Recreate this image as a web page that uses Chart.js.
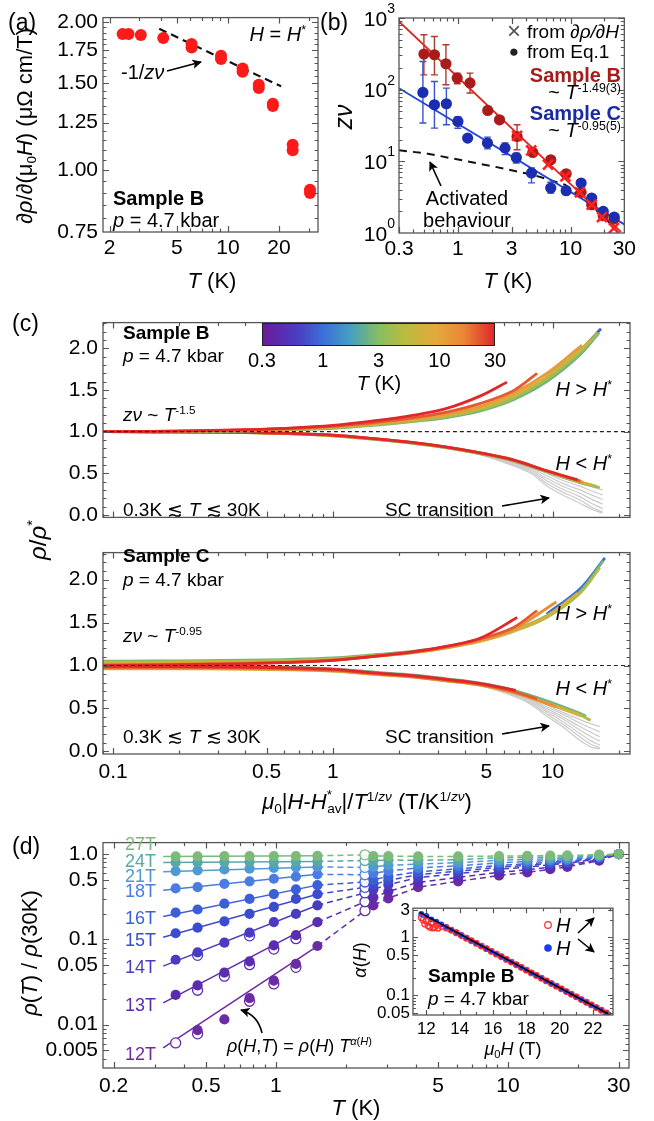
<!DOCTYPE html>
<html><head><meta charset="utf-8">
<script src="https://cdn.jsdelivr.net/npm/chart.js@4.4.1/dist/chart.umd.min.js"></script>
<style>
html,body{margin:0;padding:0;background:#fff;}
#page{position:relative;width:654px;height:1121px;overflow:hidden;font-family:"Liberation Sans",Arial,Helvetica,sans-serif;color:#000;}
canvas{position:absolute;}
.t{position:absolute;white-space:nowrap;line-height:1;z-index:6;}
.t sup,.t sub{font-size:62%;line-height:0;position:relative;vertical-align:baseline;}
.t sup{top:-0.6em;}
.t sub{top:0.3em;}
</style></head><body><div id="page"></div>
<script>
// ---------------- DATA ----------------
// (a)
const aT = [2.39, 2.59, 3.06, 4.15, 6.1, 6.1, 9.1, 9.1, 12.2, 12.2, 15.2, 15.2, 18.4, 18.4, 24.1, 24.1, 30.5, 30.5];
const aV = [1.889, 1.889, 1.88, 1.854, 1.803, 1.775, 1.707, 1.681, 1.609, 1.585, 1.492, 1.469, 1.364, 1.35, 1.127, 1.098, 0.914, 0.90];
const aFitT = [3.93, 20.6];
const aFitV = [1.936, 1.48];
const aYTicks = [0.75, 1.00, 1.25, 1.50, 1.75, 2.00];
const aXTicks = [2, 5, 10, 20];
// (b)
const bT_B = [0.499, 0.619, 0.783, 0.986, 1.28, 1.84, 2.34, 3.35, 4.62, 6.67, 9.14, 12.4, 15.4, 19.5, 24.4];
const bZ_B = [314, 307, 230, 145, 124, 51.3, 38, 22.2, 13.3, 10.5, 6.7, 3.69, 2.48, 1.74, 1.57];
const bErr_B = [[161,583],[161,552],[117,423],[121,170],[90,170],null,null,[14.5,32.4],null,null,null,null,null,null,null];
const bT_C = [0.489, 0.619, 0.79, 1.0, 1.22, 1.83, 2.62, 3.3, 4.5, 6.67, 9.14, 12.4, 15.4, 19.5, 24.4];
const bZ_C = [91.4, 61.5, 63.6, 36, 21.1, 18, 15.3, 11.3, 6.87, 4.24, 3.89, 4.98, 3.08, 2.0, 1.67];
const bErr_C = [[34.2,247],[29.1,130],[32.4,105],[29,41.5],null,[14.9,21.8],[12.4,18],[9.5,13],[5,8.1],[3.6,5.1],null,null,null,null,null];
const bT_X = [3.35, 4.47, 6.3, 9.0, 12.1, 15.4, 19.0, 24.2];
const bZ_X = [22.7, 14.2, 8.97, 6.16, 3.69, 2.48, 1.67, 1.17];
const bFitBT = [0.3, 28], bFitBZ = [896, 1.04];
const bFitCT = [0.3, 30], bFitCZ = [105, 1.32];
const bActT = [0.3, 0.54, 2.06, 4.62, 8.99, 13.3, 20.2, 23.1];
const bActZ = [14.3, 12.8, 8.5, 6.5, 4.7, 2.9, 1.62, 1.3];
const bXTicks = [0.3, 1, 3, 10, 30];
const bYTicks = [1, 10, 100, 1000];
// (c) scaling collapse
const cGridX = [0.09, 0.15, 0.25, 0.4, 0.6, 1, 1.6, 2.3, 3.3, 4.7, 6.6, 9.4, 13.3];
const bUpT = [0.8, 2.5, 4, 7, 12, 22, 30];
const bUpY = [
  [null,null,null,null,null,null,null,null,null,null,null,1.655,1.975],
  [1.0,1.0,1.003,1.008,1.018,1.04,1.08,1.12,1.17,1.25,1.38,1.60,1.92],
  [1.0,1.001,1.005,1.011,1.022,1.046,1.088,1.128,1.18,1.265,1.40,1.63,1.95],
  [1.0,1.002,1.007,1.014,1.027,1.053,1.097,1.138,1.195,1.285,1.43,1.66,1.98],
  [1.0,1.003,1.009,1.018,1.032,1.06,1.105,1.148,1.21,1.305,1.46,1.70],
  [1.0,1.003,1.01,1.02,1.035,1.065,1.115,1.165,1.235,1.34,1.49],
  [1.0,1.004,1.012,1.024,1.04,1.075,1.135,1.195,1.28,1.43]];
const bUpEnd = [[16.6,2.235],[16.3,2.19],[16.0,2.19],[15.2,2.12],[13.6,2.04],[8.5,1.70],[6.2,1.595]];
const bLoT = [2.5, 4, 7, 12, 22, 30];
const bLoY = [
  [1.0,0.998,0.994,0.988,0.977,0.95,0.903,0.86,0.805,0.733,0.65,0.517,0.388],
  [1.0,0.998,0.995,0.989,0.978,0.952,0.906,0.864,0.809,0.738,0.655,0.522,0.393],
  [1.0,0.999,0.995,0.99,0.979,0.954,0.908,0.866,0.811,0.74,0.658,0.525,0.397],
  [1.0,0.999,0.996,0.991,0.98,0.955,0.91,0.868,0.813,0.742,0.66,0.528],
  [1.0,0.999,0.996,0.991,0.981,0.957,0.911,0.869,0.814,0.744,0.661,0.53],
  [1.0,0.999,0.997,0.992,0.982,0.958,0.912,0.87,0.815,0.745,0.662,0.53]];
const bLoEnd = [[15.8,0.345],[16.4,0.326],[15.3,0.355],[13.8,0.39],[13.4,0.405],[13.0,0.42]];
const bGreyX = [3.3, 4.7, 6.6, 8, 9.4, 11, 13.3, 15, 16.9];
const bGreyY = [
  [0.815,0.742,0.655,0.59,0.52,0.45,0.385,0.34,0.30],
  [0.815,0.74,0.648,0.578,0.50,0.42,0.345,0.29,0.24],
  [0.815,0.737,0.638,0.563,0.47,0.385,0.30,0.24,0.185],
  [0.815,0.734,0.628,0.548,0.44,0.35,0.26,0.19,0.13],
  [0.815,0.73,0.616,0.53,0.41,0.315,0.22,0.14,0.075],
  [0.815,0.726,0.604,0.512,0.38,0.28,0.18,0.095,0.035],
  [0.815,0.722,0.592,0.495,0.35,0.245,0.14,0.07,0.02]];
const cUpT = [1, 2.5, 4.5, 8, 14, 22, 30];
const cUpY = [
  [null,null,null,null,null,null,null,null,null,null,null,1.60,1.89],
  [1.05,1.053,1.057,1.062,1.07,1.088,1.13,1.165,1.22,1.30,1.41,1.58,1.86],
  [1.04,1.043,1.047,1.052,1.06,1.078,1.12,1.155,1.21,1.285,1.395,1.56,1.84],
  [1.02,1.024,1.029,1.035,1.045,1.065,1.11,1.148,1.205,1.285,1.40,1.575],
  [1.01,1.014,1.02,1.027,1.038,1.062,1.11,1.15,1.21,1.295,1.42],
  [1.005,1.01,1.016,1.024,1.036,1.062,1.112,1.155,1.22,1.31,1.44],
  [1.0,1.005,1.012,1.02,1.033,1.06,1.112,1.158,1.225,1.32]];
const cUpEnd = [[17.3,2.255],[17.0,2.22],[16.4,2.14],[13.0,1.84],[10.4,1.74],[8.5,1.64],[6.9,1.56]];
const cLoT = [2.5, 4.5, 8, 14, 22, 30];
const cLoY = [
  [1.0,0.998,0.995,0.99,0.982,0.962,0.92,0.89,0.845,0.795,0.715,0.59,0.445],
  [0.975,0.974,0.972,0.968,0.96,0.942,0.9,0.87,0.825,0.775,0.69,0.565,0.425],
  [0.962,0.962,0.96,0.957,0.951,0.934,0.895,0.865,0.82,0.77,0.685,0.56,0.42],
  [0.97,0.969,0.967,0.963,0.956,0.938,0.898,0.868,0.823,0.775,0.69,0.56],
  [0.98,0.979,0.977,0.973,0.965,0.946,0.905,0.875,0.83,0.782,0.70],
  [0.99,0.989,0.987,0.983,0.975,0.955,0.912,0.882,0.838,0.79]];
const cLoEnd = [[14.2,0.41],[14.9,0.362],[13.6,0.41],[10.4,0.52],[8.5,0.61],[6.8,0.71]];
const cGreyX = [3.3, 4.7, 6.6, 8, 9.4, 11, 13.3, 15, 16.4];
const cGreyY = [
  [0.83,0.785,0.69,0.62,0.54,0.46,0.37,0.32,0.29],
  [0.83,0.783,0.685,0.61,0.52,0.44,0.33,0.27,0.23],
  [0.83,0.78,0.68,0.6,0.5,0.41,0.29,0.22,0.17],
  [0.83,0.777,0.672,0.59,0.48,0.385,0.25,0.17,0.12],
  [0.83,0.774,0.665,0.575,0.46,0.355,0.21,0.12,0.075],
  [0.83,0.77,0.655,0.56,0.435,0.325,0.17,0.08,0.045],
  [0.83,0.765,0.645,0.545,0.41,0.295,0.13,0.05,0.03]];
const cRef = [1.0];
const cXTicks = [0.1, 0.5, 1, 5, 10];
const cYTicks = [0, 0.5, 1, 1.5, 2];
const cbarTicks = [0.3, 1, 3, 10, 30];
// (d)
const dFields = ['27T','24T','21T','18T','16T','15T','14T','13T','12T'];
const dLowT = [0.37, 0.46, 0.6, 0.77, 0.98, 1.22, 1.51];
const dLow = [
  [0.94,0.94,0.945,0.945,0.95,0.95,0.955],
  [0.80,0.80,0.805,0.81,0.81,0.815,0.82],
  [0.632,0.645,0.66,0.675,0.69,0.70,0.708],
  [0.396,0.41,0.448,0.48,0.514,0.546,0.58],
  [0.206,0.224,0.262,0.298,0.339,0.386,0.433],
  [0.118,0.137,0.163,0.199,0.24,0.298,0.339],
  [0.0577,0.0705,0.0915,0.12,0.159,0.199,0.251],
  [0.0223,0.0289,0.0408,0.0553,0.085,0.112,0.159],
  [null,0.00863,0.0115,0.0205,0.0329,0.0516,0.0836]];
const dOpenLow12 = [0.0061,0.0078,null,0.0188,0.030,0.047,null];
const dOpenLow13 = [null,0.0253,0.037,0.0505,0.077,0.102,null];
const dOpenLow14 = [null,0.065,null,0.11,null,null,null];
const dOpenT = 2.42;
const dOpen = [0.98,0.842,0.698,0.573,0.471,0.408,0.351,0.276,0.217];
const dHighT = [2.63, 3.05, 4.1, 6.1, 9.15, 12.1, 15.2, 18, 24.7, 30];
const dHigh = [
  [0.95,0.95,0.94,0.94,0.95,0.955,0.96,0.965,0.985,1.0],
  [0.84,0.853,0.847,0.861,0.907,0.915,0.925,0.931,0.974,1.0],
  [0.708,0.739,0.766,0.793,0.849,0.865,0.884,0.896,0.954,1.0],
  [0.595,0.636,0.69,0.729,0.792,0.815,0.843,0.861,0.934,1.0],
  [0.50,0.548,0.621,0.67,0.739,0.769,0.803,0.828,0.914,1.0],
  [0.44,0.491,0.575,0.63,0.702,0.737,0.776,0.804,0.90,1.0],
  [0.386,0.438,0.531,0.59,0.666,0.704,0.748,0.78,0.885,1.0],
  [0.311,0.364,0.467,0.532,0.611,0.655,0.705,0.743,0.862,1.0],
  [0.251,0.303,0.41,0.48,0.561,0.61,0.665,0.708,0.839,1.0]];
const dFitT = [0.327, 1.51];
const dFitStart = [0.935,0.795,0.622,0.377,0.185,0.1057,0.0485,0.018,0.00535];
const dFitEnd = [0.955,0.82,0.708,0.58,0.433,0.339,0.251,0.159,0.0836];
const dXTicks = [0.2, 0.5, 1, 5, 10, 30];
const dYTicks = [0.005, 0.01, 0.05, 0.1, 0.5, 1.0];
// inset
const insH = [11.7,12.0,12.3,12.6,12.9,13.2,13.5,13.8,14.1,14.4,14.7,15.0,15.3,15.6,15.9,16.2,16.5,16.8,17.1,17.4,17.7,18.0,18.3,18.6,18.9,19.2,19.5,19.8,20.1,20.4,20.7,21.0,21.3,21.6,21.9,22.2,22.5,22.8];
const insUp = [2.2,1.9,1.75,1.62,1.55,1.45,1.33,1.20,1.08,0.97,0.875,0.79,0.71,0.64,0.575,0.515,0.465,0.418,0.376,0.338,0.304,0.273,0.245,0.221,0.198,0.178,0.160,0.1445,0.130,0.1168,0.1050,0.0945,0.085,0.0764,0.0687,0.0617,0.0555,0.050];
const insDown = [2.55,2.35,2.05,1.86,1.68,1.51,1.36,1.225,1.10,0.99,0.89,0.80,0.72,0.647,0.581,0.522,0.469,0.422,0.379,0.341,0.306,0.275,0.247,0.222,0.20,0.18,0.162,0.1455,0.1305,0.1172,0.1053,0.0947,0.0851,0.0765,0.0688,0.0618,0.0556,0.0502];
const insUpExtraH = [11.8,11.9,12.1,12.2,12.4,12.5,12.7];
const insUpExtra = [2.0,1.7,1.6,1.5,1.45,1.5,1.45];
const insFitH = [11.6, 23.0], insFitA = [2.70, 0.0466];
const insXTicks = [12,14,16,18,20,22];
const insYTicks = [0.05,0.1,0.5,1,3];

// ---------------- STYLE / HELPERS ----------------
const FF = '"Liberation Sans", Arial, Helvetica, sans-serif';
Chart.defaults.font.family = FF;
Chart.defaults.color = '#000';
Chart.defaults.animation = false;
const page = document.getElementById('page');
const CMAP = [[0,'#6a1b9a'],[0.15,'#4a3fc4'],[0.26,'#3b6fd8'],[0.38,'#45a0c0'],[0.5,'#86bd62'],[0.61,'#b8bc3e'],[0.75,'#e3a93b'],[0.87,'#eb8636'],[1,'#e0282a']];
const hx = h=>[parseInt(h.slice(1,3),16),parseInt(h.slice(3,5),16),parseInt(h.slice(5,7),16)];
function tColor(T){
  const t=Math.min(1,Math.max(0,Math.log10(T/0.3)/2));
  for(let i=0;i<CMAP.length-1;i++){
    const [t0,c0]=CMAP[i],[t1,c1]=CMAP[i+1];
    if(t<=t1){const f=(t-t0)/(t1-t0);const a=hx(c0),b=hx(c1);
      return `rgb(${a.map((v,k)=>Math.round(v+(b[k]-v)*f)).join(',')})`;}
  }
  return CMAP[CMAP.length-1][1];
}
const fieldColors = ['#7cba7c','#58a9a3','#4e9ad2','#4a7ddf','#3c5fd5','#3d4ccc','#4a3cc0','#5a2cb0','#6b2ba5'];

function mkCanvas(x,y,w,h,z){
  const c=document.createElement('canvas');c.width=w;c.height=h;
  Object.assign(c.style,{left:x+'px',top:y+'px',width:w+'px',height:h+'px',zIndex:z||1});
  page.appendChild(c);return c;
}
function txt(x,y,html,o={}){
  const d=document.createElement('div');d.className='t';d.innerHTML=html;
  d.style.left=x+'px';d.style.top=y+'px';d.style.fontSize=(o.s||20)+'px';
  if(o.b)d.style.fontWeight='bold';
  if(o.c)d.style.color=o.c;
  const ax=o.a==='c'||o.rot?'-50%':o.a==='r'?'-100%':'0';
  d.style.transform=`translate(${ax},-50%)`+(o.rot?' rotate(-90deg)':'');
  page.appendChild(d);
}
function axis(type,min,max,ticks,labels,o){
  return {type,min,max,
    afterBuildTicks:s=>{s.ticks=ticks.map(v=>({value:v}));},
    afterFit:s=>{if(s.isHorizontal())s.height=o.h;else s.width=o.w;},
    ticks:{display:o.show!==false,autoSkip:false,maxRotation:0,minRotation:0,padding:o.pad==null?5:o.pad,
      font:{size:o.fs||20,family:FF},color:'#000',callback:(v,i)=>labels[i]},
    grid:{display:false,drawTicks:false},border:{display:false}};
}
function makeFrame(o){
  return {id:'frame',
    beforeDatasetsDraw(chart){
      if(!o.fill)return;const {ctx,chartArea:a}=chart;ctx.save();ctx.fillStyle=o.fill;
      ctx.fillRect(a.left,a.top,a.right-a.left,a.bottom-a.top);ctx.restore();},
    afterDraw(chart){
      const {ctx,chartArea:a}=chart;const sx=chart.scales.x,sy=chart.scales.y;
      ctx.save();ctx.strokeStyle='#555';ctx.lineWidth=1.2;ctx.beginPath();
      const M=o.M||6,m=o.m||3.5;
      const tx=(v,l)=>{const p=Math.round(sx.getPixelForValue(v))+0.5;if(p<a.left||p>a.right)return;
        ctx.moveTo(p,a.bottom);ctx.lineTo(p,a.bottom-l);ctx.moveTo(p,a.top);ctx.lineTo(p,a.top+l);};
      const ty=(v,l)=>{const p=Math.round(sy.getPixelForValue(v))+0.5;if(p<a.top||p>a.bottom)return;
        ctx.moveTo(a.left,p);ctx.lineTo(a.left+l,p);ctx.moveTo(a.right,p);ctx.lineTo(a.right-l,p);};
      (o.xM||[]).forEach(v=>tx(v,M));(o.xm||[]).forEach(v=>tx(v,m));
      (o.yM||[]).forEach(v=>ty(v,M));(o.ym||[]).forEach(v=>ty(v,m));
      ctx.stroke();
      ctx.lineWidth=1.3;ctx.strokeRect(a.left,a.top,a.right-a.left,a.bottom-a.top);
      if(o.yPow){
        ctx.fillStyle='#000';ctx.textBaseline='middle';ctx.textAlign='right';
        o.yPow.forEach(v=>{const p=sy.getPixelForValue(v);const e=String(Math.round(Math.log10(v)));
          ctx.font='14px '+FF;const ew=ctx.measureText(e).width;const xr=a.left-4;
          ctx.fillText(e,xr,p-9);ctx.font='21px '+FF;ctx.fillText('10',xr-ew,p+2);});
      }
      ctx.restore();}};
}
function chart(canvas,cx,cy,cw,ch,box,xs,ys,datasets,frameOpts,extra){
  datasets.forEach((d,i)=>{d.order=datasets.length-i;});
  return new Chart(canvas,{type:'scatter',data:{datasets},
    options:{responsive:false,animation:false,events:[],
      layout:{padding:{left:0,top:box.T-cy,right:cx+cw-box.R,bottom:0}},
      scales:{x:xs,y:ys},plugins:{legend:{display:false},tooltip:{enabled:false}}},
    plugins:[makeFrame(frameOpts)].concat(extra||[])});
}
const pts=(xs,ys)=>xs.map((x,i)=>ys[i]==null?null:{x,y:ys[i]}).filter(Boolean);
const line=(data,color,w,dash,extra)=>Object.assign({data,showLine:true,borderColor:color,borderWidth:w,borderDash:dash||[],pointRadius:0,fill:false},extra||{});
const dots=(data,color,r,extra)=>Object.assign({data,showLine:false,pointRadius:r,backgroundColor:color,borderWidth:0,pointHoverRadius:r},extra||{});
const logMinor=(lo,hi,skip)=>{const r=[];for(let e=Math.floor(Math.log10(lo));e<=Math.ceil(Math.log10(hi));e++){for(let k=1;k<10;k++){const v=k*Math.pow(10,e);if(v>=lo&&v<=hi&&!skip.some(s=>Math.abs(s-v)/v<1e-6))r.push(v);}}return r;};

// ---------------- PANEL (a) ----------------
{
  const cx=40,cy=0,cw=290,ch=262,box={L:103,T:17,R:318,B:232};
  const xs=axis('logarithmic',1.83,34,aXTicks,aXTicks.map(String),{h:cy+ch-box.B,fs:21,pad:4});
  const ys=axis('logarithmic',0.75,2.04,aYTicks,aYTicks.map(v=>v.toFixed(2)),{w:box.L-cx,fs:21,pad:5});
  const yMinor=[];for(let v=0.8;v<2.02;v+=0.05){if(!aYTicks.some(t=>Math.abs(t-v)<1e-6))yMinor.push(v);}
  chart(mkCanvas(cx,cy,cw,ch),cx,cy,cw,ch,box,xs,ys,[
    line(pts(aFitT,aFitV),'#111',2.2,[8,5]),
    dots(pts(aT,aV),'#ff1a1a',6)
  ],{xM:aXTicks,xm:logMinor(1.83,34,aXTicks),yM:aYTicks,ym:yMinor});
}
// ---------------- PANEL (b) ----------------
{
  const cx=340,cy=0,cw=300,ch=262,box={L:399,T:18,R:628,B:233};
  const xs=axis('logarithmic',0.3,30,bXTicks,bXTicks.map(String),{h:cy+ch-box.B,fs:21,pad:4});
  const ys=axis('logarithmic',1,1000,bYTicks,bYTicks.map(()=>''),{w:box.L-cx,fs:21});
  const err={id:'err',beforeDatasetsDraw(c){const {ctx}=c;const sx=c.scales.x,sy=c.scales.y;ctx.save();
    [[bT_B,bErr_B,'#b03a30'],[bT_C,bErr_C,'#3a52c8']].forEach(([ts,es,col])=>{ctx.strokeStyle=col;ctx.lineWidth=1.4;
      ts.forEach((t,i)=>{const e=es[i];if(!e)return;const x=sx.getPixelForValue(t),y1=sy.getPixelForValue(e[0]),y2=sy.getPixelForValue(e[1]);
        ctx.beginPath();ctx.moveTo(x,y1);ctx.lineTo(x,y2);ctx.moveTo(x-3.5,y1);ctx.lineTo(x+3.5,y1);ctx.moveTo(x-3.5,y2);ctx.lineTo(x+3.5,y2);ctx.stroke();});});
    ctx.restore();}};
  chart(mkCanvas(cx,cy,cw,ch),cx,cy,cw,ch,box,xs,ys,[
    line(pts(bActT,bActZ),'#111',2,[8,6]),
    line(pts(bFitBT,bFitBZ),'#e3231d',1.8),
    line(pts(bFitCT,bFitCZ),'#2344d6',1.8),
    dots(pts(bT_B,bZ_B),'#a81c1c',5.6),
    dots(pts(bT_C,bZ_C),'#1b2db0',5.6),
    {data:pts(bT_X,bZ_X),showLine:false,pointStyle:'crossRot',pointRadius:7,borderColor:'#ff2020',borderWidth:2.6}
  ],{xM:bXTicks,xm:logMinor(0.3,30,bXTicks),yM:bYTicks,ym:logMinor(1,1000,bYTicks),yPow:bYTicks},[err]);
}
// ---------------- PANEL (c) ----------------
function cDatasets(upT,upY,upEnd,loT,loY,loEnd,gX,gY){
  const ds=[];
  gY.forEach(g=>ds.push(line(pts(gX,g),'#cbcbcb',1.2,[],{tension:0.35})));
  const curve=(T,Y,E)=>line(pts(cGridX.slice(0,Y.length),Y).concat([{x:E[0],y:E[1]}]),tColor(T),2.8,[],{tension:0.35,borderCapStyle:'butt'});
  loT.forEach((T,i)=>ds.push(curve(T,loY[i],loEnd[i])));
  upT.forEach((T,i)=>ds.push(curve(T,upY[i],upEnd[i])));
  ds.push(line([{x:0.05,y:cRef[0]},{x:50,y:cRef[0]}],'#222',1.1,[4,3]));
  return ds;
}
const cxMinor=logMinor(0.09,22.5,cXTicks);
const cyMinor=[];for(let v=0.1;v<2.31;v+=0.1){if(!cYTicks.some(t=>Math.abs(t-v)<1e-6))cyMinor.push(+v.toFixed(2));}
{
  const cx=40,cy=305,cw=600,ch=230,box={L:103,T:313,R:630,B:528};
  const xs=axis('logarithmic',0.09,22.5,cXTicks,cXTicks.map(String),{h:cy+ch-box.B,show:false});
  const ys=axis('linear',-0.03,2.31,cYTicks,cYTicks.map(v=>v.toFixed(1)),{w:box.L-cx,fs:21,pad:5});
  chart(mkCanvas(cx,cy,cw,ch),cx,cy,cw,ch,box,xs,ys,cDatasets(bUpT,bUpY,bUpEnd,bLoT,bLoY,bLoEnd,bGreyX,bGreyY),
    {xM:cXTicks,xm:cxMinor,yM:cYTicks,ym:cyMinor});
}
{
  const cx=40,cy=535,cw=600,ch=250,box={L:103,T:538,R:630,B:754};
  const xs=axis('logarithmic',0.09,22.5,cXTicks,cXTicks.map(String),{h:cy+ch-box.B,fs:21,pad:6});
  const ys=axis('linear',-0.03,2.315,cYTicks,cYTicks.map(v=>v.toFixed(1)),{w:box.L-cx,fs:21,pad:5});
  chart(mkCanvas(cx,cy,cw,ch),cx,cy,cw,ch,box,xs,ys,cDatasets(cUpT,cUpY,cUpEnd,cLoT,cLoY,cLoEnd,cGreyX,cGreyY),
    {xM:cXTicks,xm:cxMinor,yM:cYTicks,ym:cyMinor});
}
// ---------------- PANEL (d) ----------------
{
  const cx=40,cy=825,cw=600,ch=275,box={L:103,T:833,R:629,B:1068};
  const xs=axis('logarithmic',0.18,33.2,dXTicks,dXTicks.map(String),{h:cy+ch-box.B,fs:21,pad:6});
  const ys=axis('logarithmic',0.0031,1.365,dYTicks,['0.005','0.01','0.05','0.1','0.5','1.0'],{w:box.L-cx,fs:21,pad:5});
  const ds=[];
  for(let k=dFields.length-1;k>=0;k--){
    const col=fieldColors[k];
    ds.push(line([{x:dFitT[0],y:dFitStart[k]},{x:dFitT[1],y:dFitEnd[k]}],col,1.5));
    const dash=[{x:dLowT[6],y:dLow[k][6]},{x:dOpenT,y:dOpen[k]}].concat(pts(dHighT,dHigh[k]));
    ds.push(line(dash,col,1.5,[6,4]));
  }
  const openLow=[[8,dOpenLow12],[7,dOpenLow13],[6,dOpenLow14]];
  openLow.forEach(([k,arr])=>ds.push({data:pts(dLowT,arr),showLine:false,pointRadius:5,borderColor:fieldColors[k],borderWidth:1.3,backgroundColor:'rgba(255,255,255,0.9)'}));
  for(let k=dFields.length-1;k>=0;k--){
    ds.push({data:[{x:dOpenT,y:dOpen[k]}],showLine:false,pointRadius:5,borderColor:fieldColors[k],borderWidth:1.3,backgroundColor:'rgba(255,255,255,0.9)'});
  }
  for(let k=dFields.length-1;k>=0;k--){
    ds.push(dots(pts(dLowT,dLow[k]).concat(pts(dHighT,dHigh[k])),fieldColors[k],5.1));
  }
  const yMinor=logMinor(0.0031,1.365,dYTicks);
  chart(mkCanvas(cx,cy,cw,ch),cx,cy,cw,ch,box,xs,ys,ds,{xM:dXTicks,xm:logMinor(0.18,33.2,dXTicks),yM:dYTicks,ym:yMinor});
}
// inset
{
  const cx=370,cy=895,cw=262,ch=145,box={L:413,T:904,R:613,B:1015};
  const xs=axis('linear',11.2,23.2,insXTicks,insXTicks.map(String),{h:cy+ch-box.B,fs:17,pad:4});
  const ys=axis('logarithmic',0.046,3.2,insYTicks,insYTicks.map(String),{w:box.L-cx,fs:17,pad:3});
  const xm=[];for(let v=12;v<=23;v++){if(v%2)xm.push(v);}
  chart(mkCanvas(cx,cy,cw,ch,2),cx,cy,cw,ch,box,xs,ys,[
    dots(pts(insH,insDown),'#1a3cf0',3),
    {data:pts(insH,insUp).concat(pts(insUpExtraH,insUpExtra)),showLine:false,pointRadius:2.8,borderColor:'#ff2a2a',borderWidth:1.2,backgroundColor:'rgba(255,255,255,0)'},
    line(pts(insFitH,insFitA),'#000',1.4)
  ],{fill:'#fff',M:5,m:3,xM:insXTicks,xm,yM:insYTicks,ym:logMinor(0.046,3.2,insYTicks)});
}

// ---------------- TEXT ----------------
// (a)
txt(8,22,'(a)',{s:23});
txt(25,126,'∂<i>ρ</i>/∂(μ<sub>0</sub><i>H</i>) (μΩ cm/T)',{s:22,rot:1});
txt(212,281,'<i>T</i> (K)',{s:22,a:'c'});
txt(306,34,'<i>H</i> = <i>H</i><sup>*</sup>',{s:20,a:'r'});
txt(121,72,'-1/<i>zν</i>',{s:20});
txt(113,198,'Sample B',{s:20,b:1});
txt(113,220,'<i>p</i> = 4.7 kbar',{s:20});
// (b)
txt(320,22,'(b)',{s:23});
txt(343,117,'<i>zν</i>',{s:25,rot:1});
txt(508,281,'<i>T</i> (K)',{s:22,a:'c'});
txt(514,31,'×',{s:24,a:'c',c:'#555'});
txt(527,31,'from <i>∂ρ/∂H</i>',{s:19});
txt(514,51,'●',{s:17,a:'c',c:'#222'});
txt(527,51,'from Eq.1',{s:19});
txt(621,75,'Sample B',{s:20,b:1,a:'r',c:'#a51c1c'});
txt(621,92,'~ <i>T</i><sup>-1.49(3)</sup>',{s:20,a:'r'});
txt(621,113,'Sample C',{s:20,b:1,a:'r',c:'#1a2aa0'});
txt(621,130,'~ <i>T</i><sup>-0.95(5)</sup>',{s:20,a:'r'});
txt(467,198,'Activated',{s:20,a:'c'});
txt(467,220,'behaviour',{s:20,a:'c'});
// (c)
txt(12,323,'(c)',{s:23});
{
  const cb=document.createElement('div');
  Object.assign(cb.style,{position:'absolute',left:'262px',top:'323px',width:'233px',height:'23px',border:'1px solid #222',boxSizing:'border-box',zIndex:6,
    background:'linear-gradient(to right,'+CMAP.map(([t,c])=>c+' '+(t*100)+'%').join(',')+')'});
  page.appendChild(cb);
  cbarTicks.forEach(v=>txt(262+116.5*Math.log10(v/0.3),360,String(v),{s:20,a:'c'}));
}
txt(379,383,'<i>T</i> (K)',{s:20,a:'c'});
txt(123,332,'Sample B',{s:19,b:1});
txt(123,355,'<i>p</i> = 4.7 kbar',{s:19});
txt(123,414,'<i>zν</i> ~ <i>T</i><sup>-1.5</sup>',{s:19});
txt(123,509,'0.3K ≲ <i>T</i> ≲ 30K',{s:19});
txt(612,389,'<i>H</i> &gt; <i>H</i><sup>*</sup>',{s:20,a:'r'});
txt(612,463,'<i>H</i> &lt; <i>H</i><sup>*</sup>',{s:20,a:'r'});
txt(385,509,'SC transition',{s:19});
txt(123,555,'Sample C',{s:19,b:1});
txt(123,579,'<i>p</i> = 4.7 kbar',{s:19});
txt(123,635,'<i>zν</i> ~ <i>T</i><sup>-0.95</sup>',{s:19});
txt(123,736,'0.3K ≲ <i>T</i> ≲ 30K',{s:19});
txt(612,613,'<i>H</i> &gt; <i>H</i><sup>*</sup>',{s:20,a:'r'});
txt(612,688,'<i>H</i> &lt; <i>H</i><sup>*</sup>',{s:20,a:'r'});
txt(385,736,'SC transition',{s:19});
txt(38,540,'<i>ρ</i>/<i>ρ</i><sup>*</sup>',{s:24,rot:1});
txt(367,802,'<i>μ</i><sub>0</sub>|<i>H</i>-<i>H</i><sup style="top:-0.7em">*</sup><sub style="margin-left:-0.35em">av</sub>|/<i>T</i><sup>1/<i>zν</i></sup> (T/K<sup>1/<i>zν</i></sup>)',{s:22,a:'c'});
// (d)
txt(12,846,'(d)',{s:23});
const dLabelY=[844,861,876,891,918,940,967,1005,1054];
dFields.forEach((f,k)=>txt(156,dLabelY[k],f,{s:18,a:'r',c:fieldColors[k]}));
txt(30,953,'<i>ρ</i>(<i>T</i>) / <i>ρ</i>(30K)',{s:22,rot:1});
txt(356,1108,'<i>T</i> (K)',{s:22,a:'c'});
txt(227,1046,'<i>ρ</i>(<i>H</i>,<i>T</i>) = <i>ρ</i>(<i>H</i>) <i>T</i><sup><i>α</i>(<i>H</i>)</sup>',{s:18});
txt(428,975,'Sample B',{s:19,b:1});
txt(428,998,'<i>p</i> = 4.7 kbar',{s:19});
txt(513,1049,'<i>μ</i><sub>0</sub><i>H</i> (T)',{s:18,a:'c'});
txt(360,960,'<i>α</i>(<i>H</i>)',{s:18,rot:1});
txt(556,925,'<i>H</i>',{s:20});
txt(556,948,'<i>H</i>',{s:20});

// ---------------- ARROWS (SVG) ----------------
{
  const ns='http://www.w3.org/2000/svg';
  const svg=document.createElementNS(ns,'svg');
  svg.setAttribute('width','654');svg.setAttribute('height','1121');
  Object.assign(svg.style,{position:'absolute',left:'0',top:'0',zIndex:5,pointerEvents:'none'});
  svg.innerHTML=`<defs><marker id="ah" viewBox="0 0 10 10" refX="9" refY="5" markerWidth="6" markerHeight="6" orient="auto-start-reverse"><path d="M0,0 L10,5 L0,10 L2.5,5 z" fill="#000"/></marker></defs>
  <g stroke="#000" stroke-width="1.6" fill="none" marker-end="url(#ah)">
   <line x1="167" y1="71" x2="201" y2="62"/>
   <line x1="441" y1="186" x2="430" y2="162"/>
   <line x1="502" y1="506" x2="549" y2="498"/>
   <line x1="502" y1="734" x2="549" y2="726"/>
   <path d="M262,1033 Q258,1015 241,1010"/>
   <line x1="578" y1="933" x2="594" y2="918"/>
   <line x1="578" y1="939" x2="594" y2="952"/>
  </g>
  <circle cx="548" cy="925" r="3.3" fill="none" stroke="#ff2a2a" stroke-width="1.2"/>
  <circle cx="548" cy="948" r="3.8" fill="#1a3cf0"/>`;
  page.appendChild(svg);
}
</script></body></html>
